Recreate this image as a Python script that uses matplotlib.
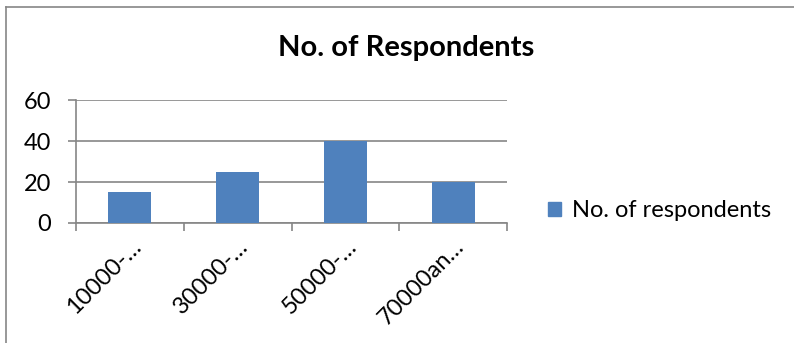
import matplotlib
matplotlib.use("Agg")
import matplotlib.pyplot as plt
from matplotlib.lines import Line2D
from matplotlib.patches import Patch

categories = ["10000-…", "30000-…", "50000-…", "70000an…"]
respondents = [15, 25, 40, 20]
y_ticks = [0, 20, 40, 60]

BAR = "#4f81bd"
GRID = "#868686"
INK = "#000000"

plt.rcParams["font.family"] = ["Lato", "DejaVu Sans"]

fig = plt.figure(figsize=(7.94, 3.43), dpi=100)
ax = fig.add_axes([0.0957, 0.350, 0.543, 0.358])

x = range(len(categories))
ax.bar(x, respondents, width=0.4, color=BAR, zorder=3, label="No. of respondents")

ax.set_xlim(-0.5, len(categories) - 0.5)
ax.set_ylim(0, 60)
ax.set_yticks(y_ticks)
ax.set_xticks([i - 0.5 for i in range(len(categories) + 1)], minor=False)
ax.set_xticklabels([])
ax.set_xticks(list(x), minor=True)
ax.set_xticklabels(categories, minor=True, rotation=45, ha="right",
                   rotation_mode="anchor", fontsize=17)
ax.tick_params(axis="x", which="minor", length=0, pad=9)
ax.tick_params(axis="x", which="major", length=6, color=GRID, width=1.2)
ax.tick_params(axis="y", length=6, color=GRID, width=1.2, labelsize=17, pad=12)

ax.grid(axis="y", color=GRID, lw=1.2, zorder=0)
for side in ("top", "right"):
    ax.spines[side].set_visible(False)
for side in ("left", "bottom"):
    ax.spines[side].set_color(GRID)
    ax.spines[side].set_linewidth(1.2)

fig.text(0.512, 0.86, "No. of Respondents", ha="center", va="center",
         fontsize=21, fontweight="bold", color=INK)

fig.legend(handles=[Patch(color=BAR, label="No. of respondents")],
           loc="center left", bbox_to_anchor=(0.664, 0.385), frameon=False,
           fontsize=17, handlelength=0.55, handleheight=0.55, handletextpad=0.45)

# chart frame: left and top edges only
fig.add_artist(Line2D([0.0075, 0.0075], [0.0, 0.98], transform=fig.transFigure,
                      color=GRID, lw=1.2))
fig.add_artist(Line2D([0.0075, 1.0], [0.98, 0.98], transform=fig.transFigure,
                      color=GRID, lw=1.2))

fig.savefig("out.png", dpi=100)
